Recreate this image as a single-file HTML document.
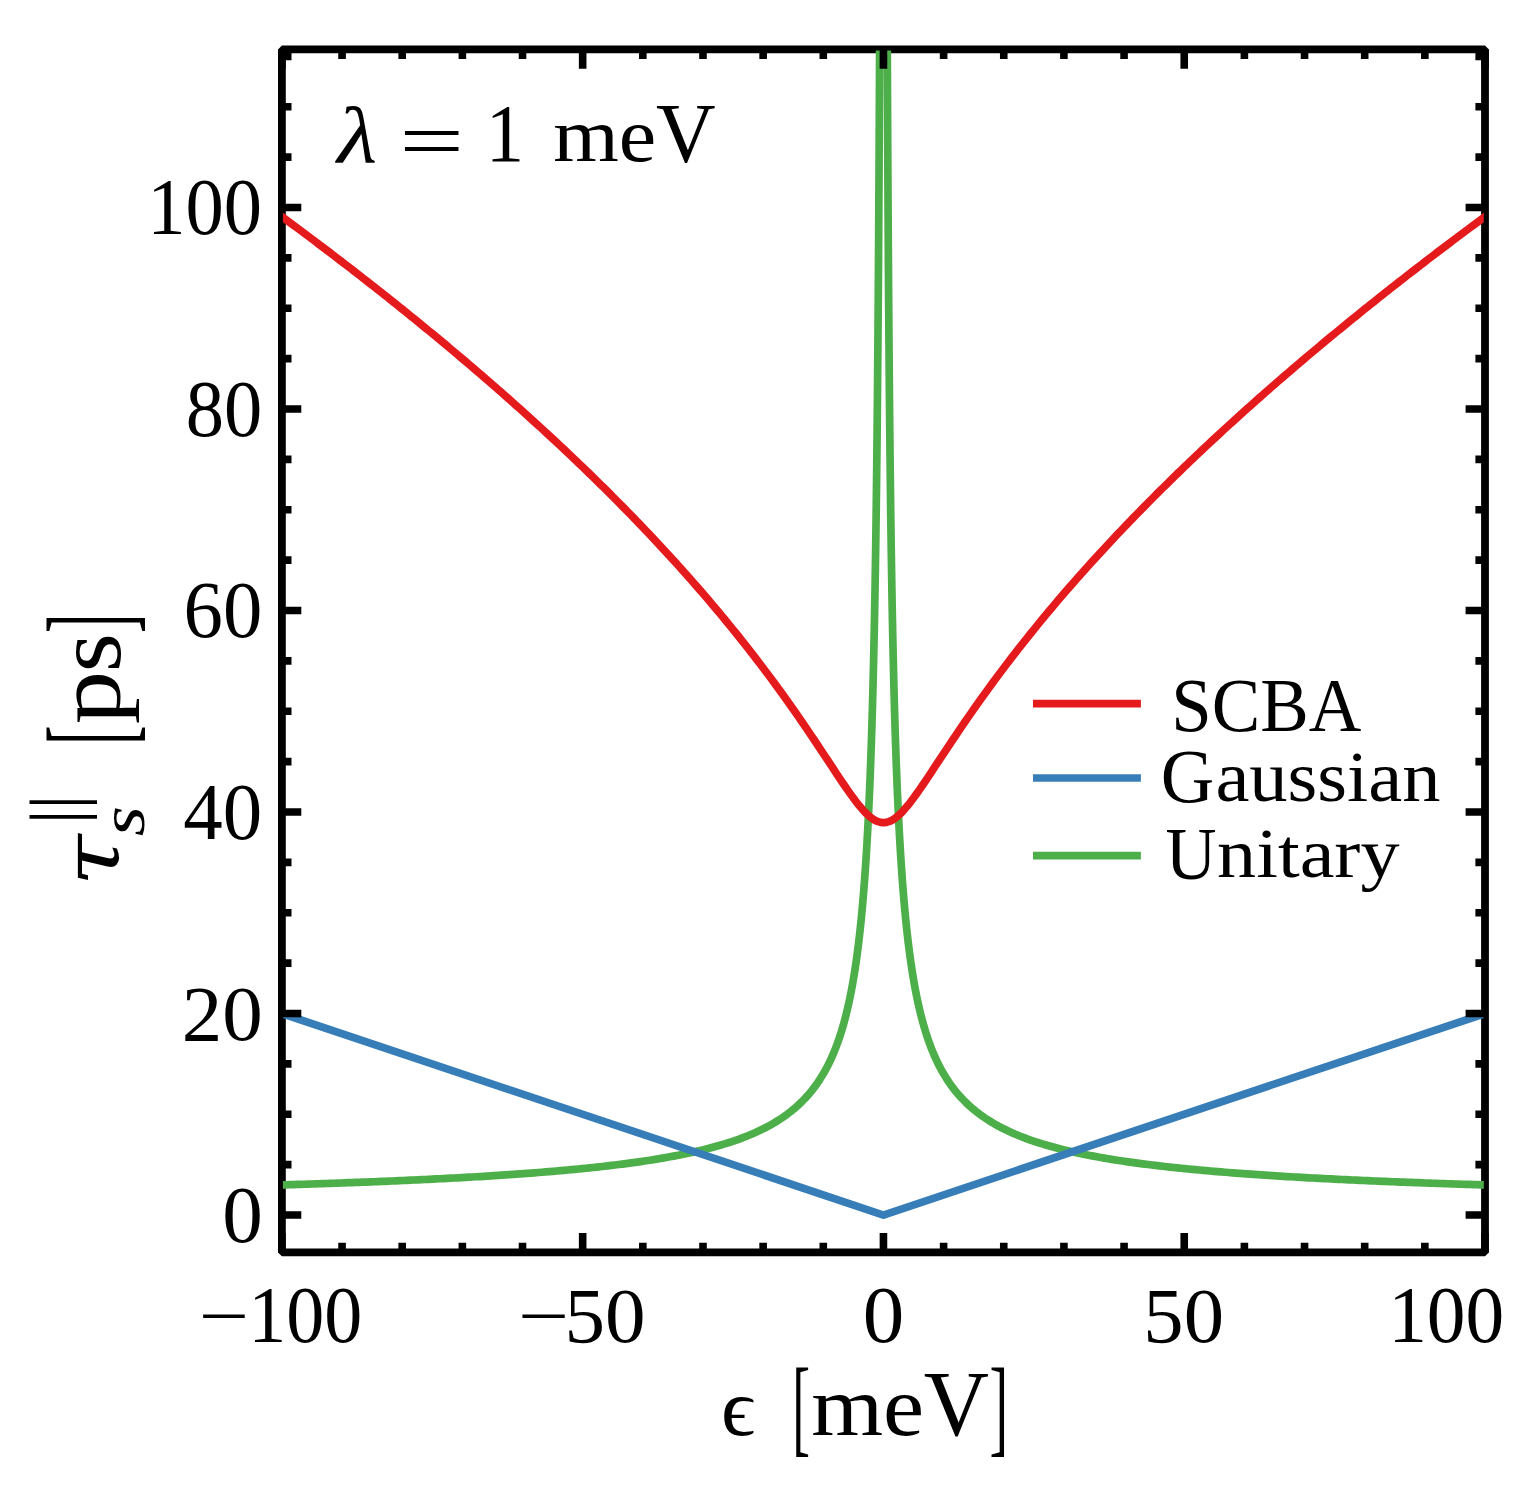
<!DOCTYPE html><html><head><meta charset="utf-8"><style>html,body{margin:0;padding:0;background:#fff;overflow:hidden;width:1528px;height:1488px;}svg{display:block;}text{font-family:"Liberation Serif",serif;font-size:100px;font-kerning:none;fill:#000;}</style></head><body>
<svg width="1528" height="1488" viewBox="0 0 1528 1488">
<rect x="0" y="0" width="1528" height="1488" fill="#fff"/>
<defs><clipPath id="c"><rect x="282.9" y="50.4" width="1200.9" height="1201"/></clipPath></defs>
<rect x="281.9" y="49.4" width="1203.10" height="1203.00" fill="none" stroke="#000" stroke-width="7.8" stroke-linejoin="bevel"/>
<g clip-path="url(#c)" fill="none" stroke-width="7.7" stroke-linejoin="round">
<path d="M278.89,1185.02 L282.55,1184.91 L286.20,1184.80 L289.85,1184.69 L293.51,1184.57 L297.16,1184.46 L300.81,1184.34 L304.47,1184.23 L308.12,1184.11 L311.78,1183.99 L315.43,1183.87 L319.08,1183.75 L322.74,1183.62 L326.39,1183.50 L330.04,1183.37 L333.70,1183.25 L337.35,1183.12 L341.01,1182.99 L344.66,1182.85 L348.31,1182.72 L351.97,1182.58 L355.62,1182.45 L359.27,1182.31 L362.93,1182.17 L366.58,1182.03 L370.23,1181.88 L373.89,1181.74 L377.54,1181.59 L381.20,1181.44 L384.85,1181.29 L388.50,1181.14 L392.16,1180.98 L395.81,1180.83 L399.46,1180.67 L403.12,1180.51 L406.77,1180.34 L410.43,1180.18 L414.08,1180.01 L417.73,1179.84 L421.39,1179.67 L425.04,1179.49 L428.69,1179.31 L432.35,1179.14 L436.00,1178.95 L439.66,1178.77 L443.31,1178.58 L446.96,1178.39 L450.62,1178.20 L454.27,1178.00 L457.92,1177.80 L461.58,1177.60 L465.23,1177.40 L468.89,1177.19 L472.54,1176.98 L476.19,1176.76 L479.85,1176.55 L483.50,1176.32 L487.15,1176.10 L490.81,1175.87 L494.46,1175.64 L498.11,1175.40 L501.77,1175.16 L505.42,1174.92 L509.08,1174.67 L512.73,1174.42 L516.38,1174.16 L520.04,1173.90 L523.69,1173.64 L527.34,1173.37 L531.00,1173.09 L534.65,1172.81 L538.31,1172.52 L541.96,1172.23 L545.61,1171.94 L549.27,1171.64 L552.92,1171.33 L556.57,1171.01 L560.23,1170.69 L563.88,1170.37 L567.54,1170.04 L571.19,1169.70 L574.84,1169.35 L578.50,1169.00 L582.15,1168.63 L585.80,1168.26 L589.46,1167.89 L593.11,1167.50 L596.76,1167.11 L600.42,1166.71 L604.07,1166.29 L607.73,1165.87 L611.38,1165.44 L615.03,1165.00 L618.69,1164.55 L622.34,1164.09 L625.99,1163.61 L629.65,1163.12 L633.30,1162.63 L636.96,1162.11 L640.61,1161.59 L644.26,1161.05 L647.92,1160.50 L651.57,1159.93 L655.22,1159.34 L658.88,1158.74 L662.53,1158.12 L666.19,1157.48 L669.84,1156.83 L673.49,1156.15 L677.15,1155.46 L680.80,1154.74 L684.45,1154.00 L688.11,1153.23 L691.76,1152.44 L695.42,1151.62 L699.07,1150.77 L702.72,1149.89 L706.38,1148.99 L710.03,1148.04 L713.68,1147.07 L717.34,1146.05 L720.99,1145.00 L724.64,1143.90 L728.30,1142.75 L731.95,1141.56 L735.61,1140.32 L739.26,1139.02 L742.91,1137.66 L746.57,1136.24 L750.22,1134.75 L753.87,1133.19 L757.53,1131.55 L761.18,1129.82 L764.84,1128.00 L768.49,1126.07 L772.14,1124.04 L775.80,1121.88 L779.45,1119.59 L783.10,1117.15 L786.76,1114.56 L790.41,1111.78 L794.07,1108.80 L797.72,1105.60 L801.37,1102.15 L805.03,1098.41 L808.68,1094.35 L812.33,1089.93 L815.99,1085.08 L819.64,1079.74 L823.30,1073.83 L824.30,1072.09 L825.29,1070.33 L826.26,1068.54 L827.21,1066.74 L828.15,1064.90 L829.08,1063.05 L829.99,1061.16 L830.88,1059.26 L831.76,1057.33 L832.62,1055.37 L833.47,1053.39 L834.31,1051.38 L835.13,1049.34 L835.93,1047.28 L836.73,1045.19 L837.51,1043.07 L838.28,1040.92 L839.03,1038.75 L839.77,1036.55 L840.50,1034.31 L841.22,1032.05 L841.92,1029.76 L842.62,1027.44 L843.30,1025.08 L843.97,1022.70 L844.63,1020.28 L845.28,1017.83 L845.92,1015.35 L846.54,1012.83 L847.16,1010.28 L847.77,1007.70 L848.36,1005.08 L848.95,1002.43 L849.53,999.74 L850.09,997.02 L850.65,994.26 L851.20,991.46 L851.74,988.62 L852.27,985.75 L852.79,982.84 L853.30,979.89 L853.80,976.90 L854.30,973.87 L854.78,970.79 L855.26,967.68 L855.73,964.53 L856.20,961.33 L856.65,958.09 L857.10,954.81 L857.54,951.48 L857.97,948.11 L858.40,944.69 L858.82,941.23 L859.23,937.72 L859.63,934.16 L860.03,930.55 L860.42,926.90 L860.81,923.19 L861.19,919.44 L861.56,915.63 L861.92,911.78 L862.28,907.87 L862.64,903.91 L862.98,899.89 L863.33,895.82 L863.66,891.70 L863.99,887.52 L864.32,883.28 L864.64,878.98 L864.95,874.63 L865.26,870.22 L865.56,865.75 L865.86,861.21 L866.16,856.62 L866.45,851.96 L866.73,847.24 L867.01,842.46 L867.28,837.61 L867.55,832.69 L867.82,827.71 L868.08,822.66 L868.34,817.54 L868.59,812.35 L868.84,807.09 L869.08,801.75 L869.32,796.35 L869.56,790.87 L869.79,785.32 L870.02,779.69 L870.24,773.98 L870.46,768.20 L870.68,762.33 L870.89,756.39 L871.10,750.36 L871.31,744.26 L871.51,738.06 L871.71,731.79 L871.91,725.43 L872.10,718.98 L872.29,712.44 L872.48,705.81 L872.66,699.09 L872.84,692.28 L873.02,685.37 L873.19,678.37 L873.36,671.28 L873.53,664.08 L873.70,656.79 L873.86,649.40 L874.02,641.90 L874.18,634.31 L874.33,626.60 L874.49,618.79 L874.64,610.88 L874.78,602.85 L874.93,594.71 L875.07,586.47 L875.21,578.10 L875.35,569.62 L875.48,561.03 L875.62,552.31 L875.75,543.48 L875.88,534.52 L876.00,525.44 L876.13,516.23 L876.25,506.90 L876.37,497.44 L876.49,487.84 L876.60,478.12 L876.72,468.25 L876.83,458.25 L876.94,448.12 L877.05,437.84 L877.16,427.42 L877.26,416.85 L877.36,406.14 L877.47,395.28 L877.57,384.27 L877.66,373.10 L877.76,361.78 L877.86,350.30 L877.95,338.67 L878.04,326.87 L878.13,314.90 L878.22,302.77 L878.31,290.47 L878.39,278.00 L878.48,265.36 L878.56,252.54 L878.64,239.54 L878.72,226.35 L878.80,212.99 L878.88,199.44 L878.96,185.70 L879.03,171.76 L879.11,157.64 L879.18,143.31 L879.25,128.78 L879.32,114.06 L879.39,99.12 L879.46,83.98 L879.52,68.62 L879.59,53.05 L879.65,37.26 L879.72,21.25 L879.78,5.02 L879.84,-11.44 L879.90,-28.14 L879.96,-45.07 L880.02,-62.23 L880.08,-79.64 L880.13,-97.29 L880.19,-115.18 L880.24,-133.33 L880.30,-151.74 L880.35,-170.40 L880.40,-189.32 L880.45,-208.52 L880.50,-227.98 L880.55,-247.71 L880.60,-267.73 L880.65,-288.02 L880.69,-308.60 L880.74,-329.47 L880.78,-350.64 L880.83,-372.10 L880.87,-393.87 L880.92,-415.94 L880.96,-438.32 L881.00,-461.02 L881.04,-484.04 L881.08,-507.39 L881.12,-531.06 L881.16,-555.07 L881.20,-579.42 L881.24,-604.11 L881.27,-629.16 L881.31,-654.55 L881.34,-680.31 L885.56,-680.31 L885.59,-654.55 L885.63,-629.16 L885.66,-604.11 L885.70,-579.42 L885.74,-555.07 L885.78,-531.06 L885.82,-507.39 L885.86,-484.04 L885.90,-461.02 L885.94,-438.32 L885.98,-415.94 L886.03,-393.87 L886.07,-372.10 L886.12,-350.64 L886.16,-329.47 L886.21,-308.60 L886.25,-288.02 L886.30,-267.73 L886.35,-247.71 L886.40,-227.98 L886.45,-208.52 L886.50,-189.32 L886.55,-170.40 L886.60,-151.74 L886.66,-133.33 L886.71,-115.18 L886.77,-97.29 L886.82,-79.64 L886.88,-62.23 L886.94,-45.07 L887.00,-28.14 L887.06,-11.44 L887.12,5.02 L887.18,21.25 L887.25,37.26 L887.31,53.05 L887.38,68.62 L887.44,83.98 L887.51,99.12 L887.58,114.06 L887.65,128.78 L887.72,143.31 L887.79,157.64 L887.87,171.76 L887.94,185.70 L888.02,199.44 L888.10,212.99 L888.18,226.35 L888.26,239.54 L888.34,252.54 L888.42,265.36 L888.51,278.00 L888.59,290.47 L888.68,302.77 L888.77,314.90 L888.86,326.87 L888.95,338.67 L889.04,350.30 L889.14,361.78 L889.24,373.10 L889.33,384.27 L889.43,395.28 L889.54,406.14 L889.64,416.85 L889.74,427.42 L889.85,437.84 L889.96,448.12 L890.07,458.25 L890.18,468.25 L890.30,478.12 L890.41,487.84 L890.53,497.44 L890.65,506.90 L890.77,516.23 L890.90,525.44 L891.02,534.52 L891.15,543.48 L891.28,552.31 L891.42,561.03 L891.55,569.62 L891.69,578.10 L891.83,586.47 L891.97,594.71 L892.12,602.85 L892.26,610.88 L892.41,618.79 L892.57,626.60 L892.72,634.31 L892.88,641.90 L893.04,649.40 L893.20,656.79 L893.37,664.08 L893.54,671.28 L893.71,678.37 L893.88,685.37 L894.06,692.28 L894.24,699.09 L894.42,705.81 L894.61,712.44 L894.80,718.98 L894.99,725.43 L895.19,731.79 L895.39,738.06 L895.59,744.26 L895.80,750.36 L896.01,756.39 L896.22,762.33 L896.44,768.20 L896.66,773.98 L896.88,779.69 L897.11,785.32 L897.34,790.87 L897.58,796.35 L897.82,801.75 L898.06,807.09 L898.31,812.35 L898.56,817.54 L898.82,822.66 L899.08,827.71 L899.35,832.69 L899.62,837.61 L899.89,842.46 L900.17,847.24 L900.45,851.96 L900.74,856.62 L901.04,861.21 L901.34,865.75 L901.64,870.22 L901.95,874.63 L902.26,878.98 L902.58,883.28 L902.91,887.52 L903.24,891.70 L903.57,895.82 L903.92,899.89 L904.26,903.91 L904.62,907.87 L904.98,911.78 L905.34,915.63 L905.71,919.44 L906.09,923.19 L906.48,926.90 L906.87,930.55 L907.27,934.16 L907.67,937.72 L908.08,941.23 L908.50,944.69 L908.93,948.11 L909.36,951.48 L909.80,954.81 L910.25,958.09 L910.70,961.33 L911.17,964.53 L911.64,967.68 L912.12,970.79 L912.60,973.87 L913.10,976.90 L913.60,979.89 L914.11,982.84 L914.63,985.75 L915.16,988.62 L915.70,991.46 L916.25,994.26 L916.81,997.02 L917.37,999.74 L917.95,1002.43 L918.54,1005.08 L919.13,1007.70 L919.74,1010.28 L920.36,1012.83 L920.98,1015.35 L921.62,1017.83 L922.27,1020.28 L922.93,1022.70 L923.60,1025.08 L924.28,1027.44 L924.98,1029.76 L925.68,1032.05 L926.40,1034.31 L927.13,1036.55 L927.87,1038.75 L928.62,1040.92 L929.39,1043.07 L930.17,1045.19 L930.97,1047.28 L931.77,1049.34 L932.59,1051.38 L933.43,1053.39 L934.28,1055.37 L935.14,1057.33 L936.02,1059.26 L936.91,1061.16 L937.82,1063.05 L938.75,1064.90 L939.69,1066.74 L940.64,1068.54 L941.61,1070.33 L942.60,1072.09 L943.61,1073.83 L947.26,1079.74 L950.91,1085.08 L954.57,1089.93 L958.22,1094.35 L961.87,1098.41 L965.53,1102.15 L969.18,1105.60 L972.83,1108.80 L976.49,1111.78 L980.14,1114.56 L983.80,1117.15 L987.45,1119.59 L991.10,1121.88 L994.76,1124.04 L998.41,1126.07 L1002.06,1128.00 L1005.72,1129.82 L1009.37,1131.55 L1013.03,1133.19 L1016.68,1134.75 L1020.33,1136.24 L1023.99,1137.66 L1027.64,1139.02 L1031.29,1140.32 L1034.95,1141.56 L1038.60,1142.75 L1042.26,1143.90 L1045.91,1145.00 L1049.56,1146.05 L1053.22,1147.07 L1056.87,1148.04 L1060.52,1148.99 L1064.18,1149.89 L1067.83,1150.77 L1071.48,1151.62 L1075.14,1152.44 L1078.79,1153.23 L1082.45,1154.00 L1086.10,1154.74 L1089.75,1155.46 L1093.41,1156.15 L1097.06,1156.83 L1100.71,1157.48 L1104.37,1158.12 L1108.02,1158.74 L1111.68,1159.34 L1115.33,1159.93 L1118.98,1160.50 L1122.64,1161.05 L1126.29,1161.59 L1129.94,1162.11 L1133.60,1162.63 L1137.25,1163.12 L1140.91,1163.61 L1144.56,1164.09 L1148.21,1164.55 L1151.87,1165.00 L1155.52,1165.44 L1159.17,1165.87 L1162.83,1166.29 L1166.48,1166.71 L1170.14,1167.11 L1173.79,1167.50 L1177.44,1167.89 L1181.10,1168.26 L1184.75,1168.63 L1188.40,1169.00 L1192.06,1169.35 L1195.71,1169.70 L1199.36,1170.04 L1203.02,1170.37 L1206.67,1170.69 L1210.33,1171.01 L1213.98,1171.33 L1217.63,1171.64 L1221.29,1171.94 L1224.94,1172.23 L1228.59,1172.52 L1232.25,1172.81 L1235.90,1173.09 L1239.56,1173.37 L1243.21,1173.64 L1246.86,1173.90 L1250.52,1174.16 L1254.17,1174.42 L1257.82,1174.67 L1261.48,1174.92 L1265.13,1175.16 L1268.79,1175.40 L1272.44,1175.64 L1276.09,1175.87 L1279.75,1176.10 L1283.40,1176.32 L1287.05,1176.55 L1290.71,1176.76 L1294.36,1176.98 L1298.01,1177.19 L1301.67,1177.40 L1305.32,1177.60 L1308.98,1177.80 L1312.63,1178.00 L1316.28,1178.20 L1319.94,1178.39 L1323.59,1178.58 L1327.24,1178.77 L1330.90,1178.95 L1334.55,1179.14 L1338.21,1179.31 L1341.86,1179.49 L1345.51,1179.67 L1349.17,1179.84 L1352.82,1180.01 L1356.47,1180.18 L1360.13,1180.34 L1363.78,1180.51 L1367.44,1180.67 L1371.09,1180.83 L1374.74,1180.98 L1378.40,1181.14 L1382.05,1181.29 L1385.70,1181.44 L1389.36,1181.59 L1393.01,1181.74 L1396.67,1181.88 L1400.32,1182.03 L1403.97,1182.17 L1407.63,1182.31 L1411.28,1182.45 L1414.93,1182.58 L1418.59,1182.72 L1422.24,1182.85 L1425.89,1182.99 L1429.55,1183.12 L1433.20,1183.25 L1436.86,1183.37 L1440.51,1183.50 L1444.16,1183.62 L1447.82,1183.75 L1451.47,1183.87 L1455.12,1183.99 L1458.78,1184.11 L1462.43,1184.23 L1466.09,1184.34 L1469.74,1184.46 L1473.39,1184.57 L1477.05,1184.69 L1480.70,1184.80 L1484.35,1184.91 L1488.01,1185.02" stroke="#4daf4a"/>
<path d="M278.89,1012.53 L883.45,1215.05 L1488.01,1012.53" stroke="#377eb8"/>
<path d="M278.89,214.43 L281.90,216.64 L284.91,218.86 L287.92,221.08 L290.92,223.31 L293.93,225.54 L296.94,227.78 L299.95,230.02 L302.95,232.26 L305.96,234.51 L308.97,236.77 L311.98,239.02 L314.99,241.29 L317.99,243.56 L321.00,245.83 L324.01,248.11 L327.02,250.39 L330.02,252.68 L333.03,254.97 L336.04,257.27 L339.05,259.57 L342.06,261.88 L345.06,264.19 L348.07,266.50 L351.08,268.83 L354.09,271.15 L357.09,273.49 L360.10,275.82 L363.11,278.17 L366.12,280.52 L369.12,282.87 L372.13,285.23 L375.14,287.59 L378.15,289.96 L381.16,292.34 L384.16,294.72 L387.17,297.10 L390.18,299.50 L393.19,301.89 L396.19,304.30 L399.20,306.71 L402.21,309.12 L405.22,311.54 L408.23,313.97 L411.23,316.40 L414.24,318.84 L417.25,321.28 L420.26,323.74 L423.26,326.19 L426.27,328.66 L429.28,331.13 L432.29,333.60 L435.30,336.08 L438.30,338.57 L441.31,341.07 L444.32,343.57 L447.33,346.08 L450.33,348.60 L453.34,351.12 L456.35,353.65 L459.36,356.18 L462.37,358.73 L465.37,361.28 L468.38,363.83 L471.39,366.40 L474.40,368.97 L477.40,371.55 L480.41,374.13 L483.42,376.73 L486.43,379.33 L489.43,381.94 L492.44,384.55 L495.45,387.18 L498.46,389.81 L501.47,392.45 L504.47,395.10 L507.48,397.75 L510.49,400.42 L513.50,403.09 L516.50,405.77 L519.51,408.46 L522.52,411.16 L525.53,413.86 L528.54,416.58 L531.54,419.30 L534.55,422.04 L537.56,424.78 L540.57,427.53 L543.57,430.29 L546.58,433.06 L549.59,435.84 L552.60,438.63 L555.61,441.42 L558.61,444.23 L561.62,447.05 L564.63,449.88 L567.64,452.72 L570.64,455.56 L573.65,458.42 L576.66,461.29 L579.67,464.17 L582.67,467.06 L585.68,469.97 L588.69,472.88 L591.70,475.80 L594.71,478.74 L597.71,481.69 L600.72,484.64 L603.73,487.61 L606.74,490.60 L609.74,493.59 L612.75,496.60 L615.76,499.62 L618.77,502.65 L621.78,505.70 L624.78,508.75 L627.79,511.83 L630.80,514.91 L633.81,518.01 L636.81,521.12 L639.82,524.25 L642.83,527.39 L645.84,530.55 L648.85,533.72 L651.85,536.90 L654.86,540.10 L657.87,543.32 L660.88,546.55 L663.88,549.79 L666.89,553.06 L669.90,556.34 L672.91,559.63 L675.92,562.95 L678.92,566.28 L681.93,569.63 L684.94,572.99 L687.95,576.38 L690.95,579.78 L693.96,583.20 L696.97,586.64 L699.98,590.10 L702.99,593.58 L705.99,597.08 L709.00,600.60 L712.01,604.14 L715.02,607.71 L718.02,611.29 L721.03,614.90 L724.04,618.53 L727.05,622.18 L730.05,625.86 L733.06,629.56 L736.07,633.28 L739.08,637.03 L742.09,640.81 L745.09,644.61 L748.10,648.43 L751.11,652.28 L754.12,656.16 L757.12,660.07 L760.13,664.01 L763.14,667.97 L766.15,671.96 L769.16,675.98 L772.16,680.04 L775.17,684.12 L778.18,688.23 L781.19,692.38 L784.19,696.55 L787.20,700.76 L790.21,705.00 L793.22,709.27 L796.23,713.57 L799.23,717.90 L802.24,722.26 L805.25,726.66 L808.26,731.08 L811.26,735.53 L814.27,740.01 L817.28,744.51 L820.29,749.03 L823.30,753.57 L826.30,758.12 L829.31,762.67 L832.32,767.23 L835.33,771.78 L838.33,776.30 L841.34,780.80 L844.35,785.24 L847.36,789.61 L850.36,793.88 L853.37,798.03 L856.38,802.02 L859.39,805.81 L862.40,809.35 L865.40,812.60 L868.41,815.48 L871.42,817.95 L874.43,819.95 L877.43,821.42 L880.44,822.32 L883.45,822.62 L886.46,822.32 L889.47,821.42 L892.47,819.95 L895.48,817.95 L898.49,815.48 L901.50,812.60 L904.50,809.35 L907.51,805.81 L910.52,802.02 L913.53,798.03 L916.54,793.88 L919.54,789.61 L922.55,785.24 L925.56,780.80 L928.57,776.30 L931.57,771.78 L934.58,767.23 L937.59,762.67 L940.60,758.12 L943.61,753.57 L946.61,749.03 L949.62,744.51 L952.63,740.01 L955.64,735.53 L958.64,731.08 L961.65,726.66 L964.66,722.26 L967.67,717.90 L970.67,713.57 L973.68,709.27 L976.69,705.00 L979.70,700.76 L982.71,696.55 L985.71,692.38 L988.72,688.23 L991.73,684.12 L994.74,680.04 L997.74,675.98 L1000.75,671.96 L1003.76,667.97 L1006.77,664.01 L1009.78,660.07 L1012.78,656.16 L1015.79,652.28 L1018.80,648.43 L1021.81,644.61 L1024.81,640.81 L1027.82,637.03 L1030.83,633.28 L1033.84,629.56 L1036.85,625.86 L1039.85,622.18 L1042.86,618.53 L1045.87,614.90 L1048.88,611.29 L1051.88,607.71 L1054.89,604.14 L1057.90,600.60 L1060.91,597.08 L1063.91,593.58 L1066.92,590.10 L1069.93,586.64 L1072.94,583.20 L1075.95,579.78 L1078.95,576.38 L1081.96,572.99 L1084.97,569.63 L1087.98,566.28 L1090.98,562.95 L1093.99,559.63 L1097.00,556.34 L1100.01,553.06 L1103.02,549.79 L1106.02,546.55 L1109.03,543.32 L1112.04,540.10 L1115.05,536.90 L1118.05,533.72 L1121.06,530.55 L1124.07,527.39 L1127.08,524.25 L1130.09,521.12 L1133.09,518.01 L1136.10,514.91 L1139.11,511.83 L1142.12,508.75 L1145.12,505.70 L1148.13,502.65 L1151.14,499.62 L1154.15,496.60 L1157.16,493.59 L1160.16,490.60 L1163.17,487.61 L1166.18,484.64 L1169.19,481.69 L1172.19,478.74 L1175.20,475.80 L1178.21,472.88 L1181.22,469.97 L1184.23,467.06 L1187.23,464.17 L1190.24,461.29 L1193.25,458.42 L1196.26,455.56 L1199.26,452.72 L1202.27,449.88 L1205.28,447.05 L1208.29,444.23 L1211.29,441.42 L1214.30,438.63 L1217.31,435.84 L1220.32,433.06 L1223.33,430.29 L1226.33,427.53 L1229.34,424.78 L1232.35,422.04 L1235.36,419.30 L1238.36,416.58 L1241.37,413.86 L1244.38,411.16 L1247.39,408.46 L1250.40,405.77 L1253.40,403.09 L1256.41,400.42 L1259.42,397.75 L1262.43,395.10 L1265.43,392.45 L1268.44,389.81 L1271.45,387.18 L1274.46,384.55 L1277.47,381.94 L1280.47,379.33 L1283.48,376.73 L1286.49,374.13 L1289.50,371.55 L1292.50,368.97 L1295.51,366.40 L1298.52,363.83 L1301.53,361.28 L1304.54,358.73 L1307.54,356.18 L1310.55,353.65 L1313.56,351.12 L1316.57,348.60 L1319.57,346.08 L1322.58,343.57 L1325.59,341.07 L1328.60,338.57 L1331.60,336.08 L1334.61,333.60 L1337.62,331.13 L1340.63,328.66 L1343.64,326.19 L1346.64,323.74 L1349.65,321.28 L1352.66,318.84 L1355.67,316.40 L1358.67,313.97 L1361.68,311.54 L1364.69,309.12 L1367.70,306.71 L1370.71,304.30 L1373.71,301.89 L1376.72,299.50 L1379.73,297.10 L1382.74,294.72 L1385.74,292.34 L1388.75,289.96 L1391.76,287.59 L1394.77,285.23 L1397.78,282.87 L1400.78,280.52 L1403.79,278.17 L1406.80,275.82 L1409.81,273.49 L1412.81,271.15 L1415.82,268.83 L1418.83,266.50 L1421.84,264.19 L1424.85,261.88 L1427.85,259.57 L1430.86,257.27 L1433.87,254.97 L1436.88,252.68 L1439.88,250.39 L1442.89,248.11 L1445.90,245.83 L1448.91,243.56 L1451.91,241.29 L1454.92,239.02 L1457.93,236.77 L1460.94,234.51 L1463.95,232.26 L1466.95,230.02 L1469.96,227.78 L1472.97,225.54 L1475.98,223.31 L1478.98,221.08 L1481.99,218.86 L1485.00,216.64 L1488.01,214.43" stroke="#e41a1c"/>
</g>
<path d="M281.90,1252.4V1233.00M281.90,49.4V68.80M342.06,1252.4V1242.80M342.06,49.4V59.00M402.21,1252.4V1242.80M402.21,49.4V59.00M462.37,1252.4V1242.80M462.37,49.4V59.00M522.52,1252.4V1242.80M522.52,49.4V59.00M582.67,1252.4V1233.00M582.67,49.4V68.80M642.83,1252.4V1242.80M642.83,49.4V59.00M702.99,1252.4V1242.80M702.99,49.4V59.00M763.14,1252.4V1242.80M763.14,49.4V59.00M823.30,1252.4V1242.80M823.30,49.4V59.00M883.45,1252.4V1233.00M883.45,49.4V68.80M943.61,1252.4V1242.80M943.61,49.4V59.00M1003.76,1252.4V1242.80M1003.76,49.4V59.00M1063.91,1252.4V1242.80M1063.91,49.4V59.00M1124.07,1252.4V1242.80M1124.07,49.4V59.00M1184.23,1252.4V1233.00M1184.23,49.4V68.80M1244.38,1252.4V1242.80M1244.38,49.4V59.00M1304.54,1252.4V1242.80M1304.54,49.4V59.00M1364.69,1252.4V1242.80M1364.69,49.4V59.00M1424.85,1252.4V1242.80M1424.85,49.4V59.00M1485.00,1252.4V1233.00M1485.00,49.4V68.80M281.9,1215.05H301.30M1485.0,1215.05H1465.60M281.9,1164.67H291.50M1485.0,1164.67H1475.40M281.9,1114.30H291.50M1485.0,1114.30H1475.40M281.9,1063.92H291.50M1485.0,1063.92H1475.40M281.9,1013.54H301.30M1485.0,1013.54H1465.60M281.9,963.16H291.50M1485.0,963.16H1475.40M281.9,912.78H291.50M1485.0,912.78H1475.40M281.9,862.41H291.50M1485.0,862.41H1475.40M281.9,812.03H301.30M1485.0,812.03H1465.60M281.9,761.65H291.50M1485.0,761.65H1475.40M281.9,711.27H291.50M1485.0,711.27H1475.40M281.9,660.90H291.50M1485.0,660.90H1475.40M281.9,610.52H301.30M1485.0,610.52H1465.60M281.9,560.14H291.50M1485.0,560.14H1475.40M281.9,509.76H291.50M1485.0,509.76H1475.40M281.9,459.39H291.50M1485.0,459.39H1475.40M281.9,409.01H301.30M1485.0,409.01H1465.60M281.9,358.63H291.50M1485.0,358.63H1475.40M281.9,308.25H291.50M1485.0,308.25H1475.40M281.9,257.88H291.50M1485.0,257.88H1475.40M281.9,207.50H301.30M1485.0,207.50H1465.60M281.9,157.12H291.50M1485.0,157.12H1475.40M281.9,106.74H291.50M1485.0,106.74H1475.40M281.9,56.37H291.50M1485.0,56.37H1475.40" stroke="#000" stroke-width="7.6" fill="none"/>
<path d="M1033,703.6H1140.9" stroke="#e41a1c" stroke-width="7.7"/>
<path d="M1033,778H1140.9" stroke="#377eb8" stroke-width="7.7"/>
<path d="M1033,855.7H1140.9" stroke="#4daf4a" stroke-width="7.7"/>
<text transform="translate(337.35,162.00) scale(0.9223,0.8124)" style="font-style:italic;">λ</text>
<text transform="translate(399.27,167.80) scale(1.1497,0.8040)">=</text>
<text transform="translate(485.66,161.30) scale(0.7669,0.8180)">1</text>
<text transform="translate(553.13,161.15) scale(0.8430,0.7631)">me</text>
<text transform="translate(655.97,161.81) scale(0.8261,0.8538)">V</text>
<text transform="translate(147.18,233.92) scale(0.7649,0.7987)">100</text>
<text transform="translate(185.69,436.12) scale(0.7653,0.7987)">80</text>
<text transform="translate(183.51,637.22) scale(0.7879,0.8002)">60</text>
<text transform="translate(183.36,839.02) scale(0.7895,0.7987)">40</text>
<text transform="translate(181.84,1040.03) scale(0.8105,0.7928)">20</text>
<text transform="translate(222.31,1242.02) scale(0.8116,0.7958)">0</text>
<text transform="translate(198.65,1338.10) scale(0.8940,0.6626)">−</text>
<text transform="translate(248.32,1342.22) scale(0.7605,0.8002)">100</text>
<text transform="translate(517.97,1338.10) scale(0.9090,0.6626)">−</text>
<text transform="translate(564.38,1342.23) scale(0.8121,0.7913)">50</text>
<text transform="translate(862.74,1342.22) scale(0.8305,0.8002)">0</text>
<text transform="translate(1143.31,1342.23) scale(0.8066,0.7913)">50</text>
<text transform="translate(1388.20,1342.22) scale(0.7736,0.8002)">100</text>
<text transform="translate(720.88,1435.21) scale(0.8447,0.8130)">ϵ</text>
<text transform="translate(792.13,1442.88) scale(0.5345,1.0705)">[</text>
<text transform="translate(811.16,1435.37) scale(0.9245,0.8525)">me</text>
<text transform="translate(923.79,1435.29) scale(0.9032,0.9315)">V</text>
<text transform="translate(989.57,1442.88) scale(0.5614,1.0705)">]</text>
<text transform="translate(118.94,886.13) rotate(-90) scale(0.9380,0.7849)" style="font-family:'DejaVu Serif',serif;font-style:italic;">τ</text>
<text transform="translate(144.48,836.35) rotate(-90) scale(0.7788,0.6383)" style="font-style:italic;">s</text>
<text transform="translate(81.09,809.44) rotate(-90) scale(0.7429,0.7420)">|</text>
<text transform="translate(81.09,824.34) rotate(-90) scale(0.7429,0.7420)">|</text>
<text transform="translate(129.07,745.00) rotate(-90) scale(0.5928,1.1756)">[</text>
<text transform="translate(119.87,724.32) rotate(-90) scale(1.0701,0.9034)">p</text>
<text transform="translate(120.49,672.13) rotate(-90) scale(1.0064,0.9273)">s</text>
<text transform="translate(129.07,632.99) rotate(-90) scale(0.5794,1.1756)">]</text>
<text transform="translate(1171.33,731.36) scale(0.7277,0.7606)">SCBA</text>
<text transform="translate(1160.66,801.85) scale(0.7401,0.7680)">G</text>
<text transform="translate(1215.41,801.30) scale(0.7645,0.7189)">aussian</text>
<text transform="translate(1165.42,879.38) scale(0.7072,0.7419)">U</text>
<text transform="translate(1217.11,877.43) scale(0.7820,0.6891)">nitary</text>
</svg></body></html>
